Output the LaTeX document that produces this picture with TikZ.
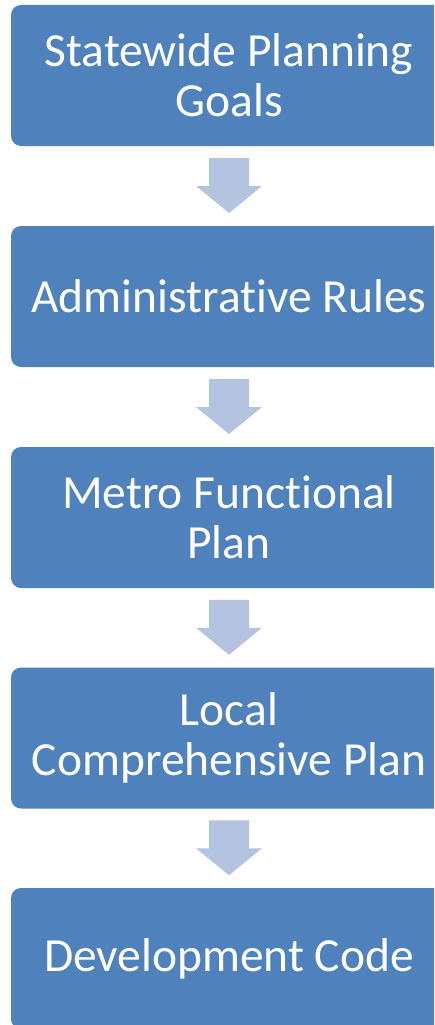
\documentclass[tikz,border=0pt]{standalone}
\usepackage{fontspec}
\setmainfont{Carlito}[RawFeature=-liga]
\usetikzlibrary{calc}
\definecolor{boxblue}{HTML}{4F81BD}
\definecolor{arrowblue}{HTML}{B4C3DF}
\tikzset{
  stagebox/.style={fill=boxblue, draw=none, rounded corners=10pt, minimum width=436pt, minimum height=141pt,
    text=white, align=center, inner sep=0pt, font=\fontsize{47.5}{50}\selectfont},
  downarrow/.style={fill=arrowblue, draw=none},
}
\begin{document}
\begin{tikzpicture}[x=1pt,y=1pt]
\useasboundingbox[clip] (0,0) rectangle (434,-1025);
\fill[white] (0,0) rectangle (434,-1025);
\node[stagebox] (b1) at (229,-75.5) {Statewide Planning\\Goals};
\node[stagebox] (b2) at (229,-296.5) {Administrative Rules};
\node[stagebox] (b3) at (229,-517.5) {Metro Functional\\Plan};
\node[stagebox] (b4) at (229,-738) {Local\\Comprehensive Plan};
\node[stagebox] (b5) at (229,-958.5) {Development Code};
\foreach \a/\b [count=\i] in {b1/b2,b2/b3,b3/b4,b4/b5}{
  \coordinate (m\i) at ($(\a.south)!0.5!(\b.north)$);
  \fill[downarrow] ([shift={(-20,28)}]m\i) -- ([shift={(20,28)}]m\i) -- ([shift={(20,0)}]m\i)
     -- ([shift={(33,0)}]m\i) -- ([shift={(0,-27)}]m\i) -- ([shift={(-33,0)}]m\i)
     -- ([shift={(-20,0)}]m\i) -- cycle;
}
\end{tikzpicture}
\end{document}
